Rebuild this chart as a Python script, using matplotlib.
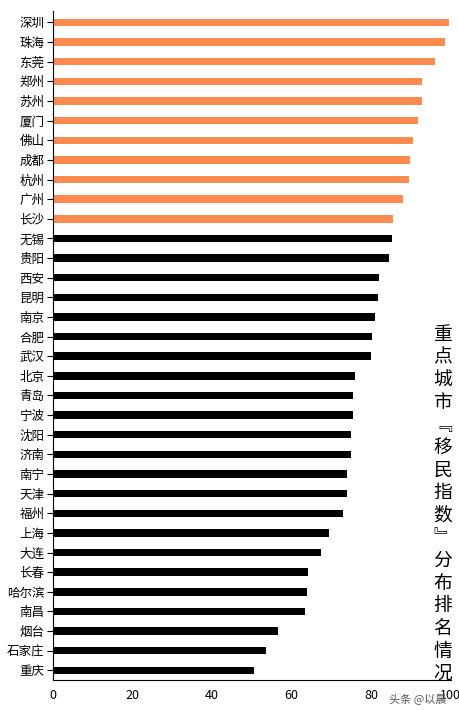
import matplotlib
matplotlib.use("Agg")
import matplotlib.pyplot as plt

plt.rcParams['font.family'] = ['Noto Sans CJK SC', 'DejaVu Sans']

cities = ["深圳", "珠海", "东莞", "郑州", "苏州", "厦门", "佛山", "成都", "杭州", "广州", "长沙",
          "无锡", "贵阳", "西安", "昆明", "南京", "合肥", "武汉", "北京", "青岛", "宁波", "沈阳",
          "济南", "南宁", "天津", "福州", "上海", "大连", "长春", "哈尔滨", "南昌", "烟台", "石家庄", "重庆"]
values = [99.5, 98.5, 96.0, 92.8, 92.8, 91.8, 90.5, 89.8, 89.5, 88.0, 85.5,
          85.3, 84.5, 82.0, 81.8, 81.0, 80.3, 80.0, 75.8, 75.5, 75.5, 75.0,
          75.0, 74.0, 73.8, 73.0, 69.5, 67.5, 64.0, 63.8, 63.3, 56.5, 53.5, 50.5]
n_top = 11

colors = ["#FF8A50" if i < n_top else "black" for i in range(len(cities))]

fig = plt.figure(figsize=(4.6, 7.1), dpi=100)
ax = fig.add_axes([0.115, 0.042, 0.865, 0.943])
ypos = list(range(len(cities)))
ax.barh(ypos, values, height=0.38, color=colors)
ax.set_yticks(ypos)
ax.set_yticklabels(cities, fontsize=9)
ax.set_ylim(len(cities) - 0.5, -0.6)
ax.set_xlim(0, 100)
ax.set_xticks([0, 20, 40, 60, 80, 100])
ax.tick_params(axis='x', labelsize=9, length=0, pad=6)
ax.tick_params(axis='y', length=4, pad=2)
ax.spines['top'].set_visible(False)
ax.spines['right'].set_visible(False)

title = "重点城市﹃移民指数﹄分布排名情况"
fig.text(0.963, 0.29, "\n".join(title), fontsize=13.5, ha='center', va='center', linespacing=1.1)
fig.text(0.845, 0.008, "头条 @以晨", fontsize=8, color="#555555", ha='left', va='bottom')

fig.savefig("out.png", dpi=100)
